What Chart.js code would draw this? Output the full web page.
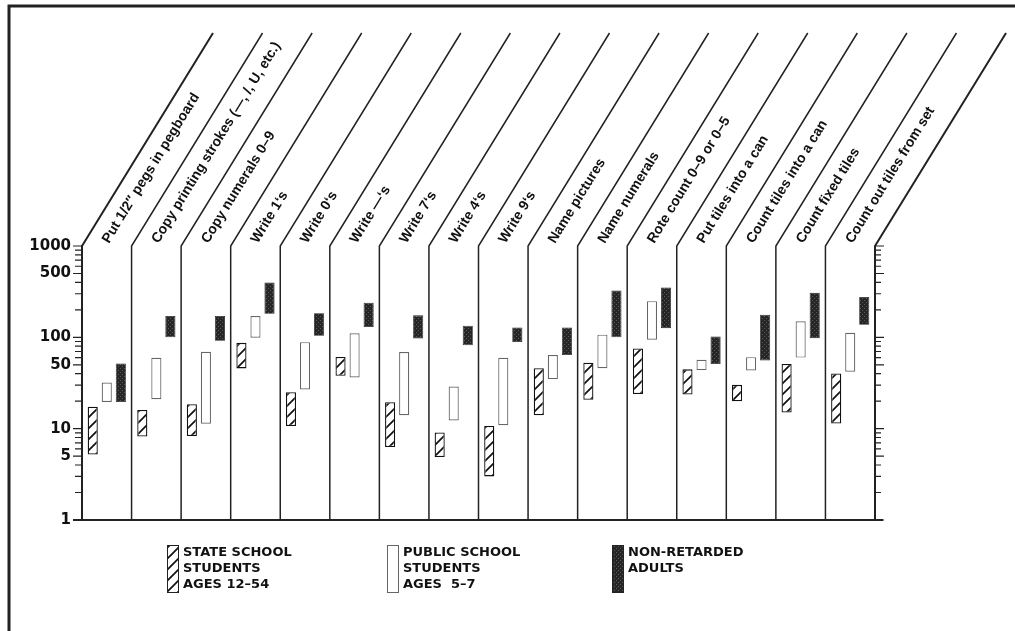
<!DOCTYPE html>
<html>
<head>
<meta charset="utf-8">
<script src="https://cdn.jsdelivr.net/npm/chart.js@4.4.1/dist/chart.umd.min.js"></script>
<style>
  html, body { margin: 0; padding: 0; background: #fff; }
  canvas { display: block; }
</style>
</head>
<body>
<canvas id="taskChart" width="1015" height="631"></canvas>
<script>
// Task labels, one column each
const categories = [
    'Put 1/2\u2033 pegs in pegboard',
    'Copy printing strokes (\u2014, /, U, etc.)',
    'Copy numerals 0\u20139',
    'Write 1\u2018s',
    'Write 0\u2018s',
    'Write \u2014\u2018s',
    'Write 7\u2018s',
    'Write 4\u2018s',
    'Write 9\u2018s',
    'Name pictures',
    'Name numerals',
    'Rote count 0\u20139 or 0\u20135',
    'Put tiles into a can',
    'Count tiles into a can',
    'Count fixed tiles',
    'Count out tiles from set'
];

// Ranges [low, high] for each group
const stateSchool = [
    [5.2, 17.4], [8.2, 16], [8.3, 18.5], [45.7, 87], [10.7, 25], [37.9, 61],
    [6.3, 19.5], [4.9, 9.1], [3, 10.7], [14, 46], [20.7, 52.6], [23.9, 75.5],
    [23.7, 44.6], [19.9, 30.2], [15, 51], [11.4, 40.3]
];
const publicSchool = [
    [19.6, 32], [21, 59.7], [11.3, 69.5], [99, 171], [26.9, 88.6], [36.4, 111],
    [14, 68.9], [12.3, 29], [10.9, 59.7], [34.9, 64], [46, 107], [94, 249],
    [43.8, 56.7], [43.4, 60.7], [60, 150], [42, 112]
];
const adults = [
    [19.6, 51.8], [100, 171], [91.6, 171], [181, 398], [104, 184], [130, 239],
    [97, 174], [82, 134], [89, 128], [64, 128], [100, 326], [126, 351],
    [50.9, 102], [55.9, 177], [98, 307], [137, 277]
];

const tickLabels = [1, 5, 10, 50, 100, 500, 1000];
const legendLines = [
    ['STATE SCHOOL', 'STUDENTS', 'AGES 12\u201354'],
    ['PUBLIC SCHOOL', 'STUDENTS', 'AGES  5\u20137'],
    ['NON-RETARDED', 'ADULTS']
];

// Hatch pattern for state school bars
function makeHatch() {
    const s = 11;
    const c = document.createElement('canvas');
    c.width = s; c.height = s;
    const g = c.getContext('2d');
    g.fillStyle = '#fff';
    g.fillRect(0, 0, s, s);
    g.strokeStyle = '#111';
    g.lineWidth = 1.7;
    g.beginPath();
    g.moveTo(-1, s + 1); g.lineTo(s + 1, -1);
    g.moveTo(-1, 1); g.lineTo(1, -1);
    g.moveTo(s - 1, s + 1); g.lineTo(s + 1, s - 1);
    g.stroke();
    return g.createPattern(c, 'repeat');
}

// Stippled dark fill for adult bars
function makeStipple() {
    const c = document.createElement('canvas');
    c.width = 4; c.height = 4;
    const g = c.getContext('2d');
    g.fillStyle = '#262626';
    g.fillRect(0, 0, 4, 4);
    g.fillStyle = '#5a5a5a';
    g.fillRect(0, 0, 1, 1);
    g.fillRect(2, 2, 1, 1);
    return g.createPattern(c, 'repeat');
}

const hatch = makeHatch();
const stipple = makeStipple();

const SLANT_DX = 131;
const TOP_Y = 33;

// Draws frame, axes, slanted headers, log ticks and legend
const decorPlugin = {
    id: 'decor',
    afterDraw(chart) {
        const ctx = chart.ctx;
        const area = chart.chartArea;
        const y = chart.scales.y;
        const n = categories.length;
        const colW = (area.right - area.left) / n;
        const yTop = y.getPixelForValue(1000);

        ctx.save();
        ctx.strokeStyle = '#222';

        // outer frame (top and left only)
        ctx.lineWidth = 3;
        ctx.beginPath();
        ctx.moveTo(9, 631); ctx.lineTo(9, 6); ctx.lineTo(1015, 6);
        ctx.stroke();

        // column separators with slanted tops
        for (let i = 0; i <= n; i++) {
            const x = area.left + i * colW;
            ctx.lineWidth = (i === 0 || i === n) ? 2 : 1.5;
            ctx.beginPath();
            ctx.moveTo(x, area.bottom);
            ctx.lineTo(x, yTop);
            ctx.lineTo(x + SLANT_DX, TOP_Y);
            ctx.stroke();
        }

        // bottom axis line
        ctx.lineWidth = 2;
        ctx.beginPath();
        ctx.moveTo(area.left - 9, area.bottom);
        ctx.lineTo(area.right + 8, area.bottom);
        ctx.stroke();

        // log ticks on both sides
        ctx.lineWidth = 1.2;
        for (let d = 1; d <= 1000; d *= 10) {
            for (let m = 1; m <= 9; m++) {
                const v = d * m;
                if (v > 1000) break;
                const py = y.getPixelForValue(v);
                const big = tickLabels.includes(v);
                ctx.beginPath();
                ctx.moveTo(area.left - (big ? 9 : 7), py);
                ctx.lineTo(area.left, py);
                ctx.moveTo(area.right, py);
                ctx.lineTo(area.right + (big ? 9 : 6), py);
                ctx.stroke();
            }
        }

        // slanted category headers
        const ang = Math.atan2(yTop - TOP_Y, SLANT_DX);
        ctx.fillStyle = '#111';
        ctx.font = 'bold 14px "Liberation Sans", Arial, sans-serif';
        ctx.textAlign = 'left';
        ctx.textBaseline = 'alphabetic';
        categories.forEach((label, i) => {
            const x = area.left + i * colW + 27;
            ctx.save();
            ctx.translate(x, yTop - 2);
            ctx.rotate(-ang);
            ctx.fillText(label, 0, 0);
            ctx.restore();
        });

        // legend
        const fills = [hatch, '#fff', stipple];
        const swX = [167, 387, 612];
        ctx.font = 'bold 13px "DejaVu Sans", sans-serif';
        legendLines.forEach((lines, k) => {
            ctx.fillStyle = fills[k];
            ctx.fillRect(swX[k], 545, 11, 47);
            ctx.lineWidth = 1;
            ctx.strokeStyle = k === 1 ? '#666' : '#222';
            ctx.strokeRect(swX[k] + 0.5, 545.5, 11, 47);
            ctx.fillStyle = '#111';
            lines.forEach((t, j) => {
                ctx.fillText(t, swX[k] + 16, 556 + j * 16);
            });
        });

        ctx.restore();
    }
};

new Chart(document.getElementById('taskChart'), {
    type: 'bar',
    data: {
        labels: categories,
        datasets: [
            {
                label: 'State school students ages 12-54',
                data: stateSchool,
                backgroundColor: hatch,
                borderColor: '#111',
                borderWidth: 1.3,
                borderSkipped: false
            },
            {
                label: 'Public school students ages 5-7',
                data: publicSchool,
                backgroundColor: '#fff',
                borderColor: '#666',
                borderWidth: 1.2,
                borderSkipped: false
            },
            {
                label: 'Non-retarded adults',
                data: adults,
                backgroundColor: stipple,
                borderColor: '#222',
                borderWidth: 0.8,
                borderSkipped: false
            }
        ]
    },
    options: {
        responsive: false,
        animation: false,
        categoryPercentage: 0.85,
        barPercentage: 0.72,
        layout: {
            padding: { left: 10, right: 140, top: 246, bottom: 111 }
        },
        plugins: {
            legend: { display: false },
            tooltip: { enabled: false }
        },
        scales: {
            x: {
                display: false
            },
            y: {
                type: 'logarithmic',
                min: 1,
                max: 1000,
                afterFit: (scale) => { scale.width = 72; },
                afterBuildTicks: (scale) => {
                    scale.ticks = tickLabels.map(v => ({ value: v }));
                },
                grid: { display: false },
                border: { display: true, color: '#222', width: 2 },
                ticks: {
                    padding: 3,
                    color: '#111',
                    font: { family: '"DejaVu Sans", sans-serif', size: 15, weight: 'bold' },
                    callback: (value) => String(value)
                }
            }
        }
    },
    plugins: [decorPlugin]
});
</script>
</body>
</html>
